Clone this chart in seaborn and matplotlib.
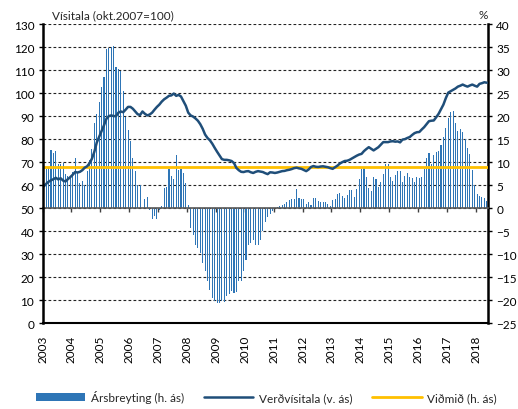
import numpy as np
import pandas as pd
import matplotlib
matplotlib.use("Agg")
import matplotlib.pyplot as plt
import seaborn as sns

# Monthly data from Jan 2003 to May 2018
years = list(range(2003, 2019))

# Ársbreyting (%), right axis
arsbreyting = [
    8.8, 8.5, 8.7, 12.6, 11.9, 12.4, 9.7, 9.7, 9.9, 7.5, 7.0, 6.5,            # 2003
    7.9, 10.8, 7.9, 5.4, 5.8, 5.0, 8.0, 10.4, 12.9, 18.6, 20.5, 23.0,         # 2004
    26.3, 28.4, 34.5, 34.7, 35.0, 35.2, 30.6, 30.3, 29.9, 25.5, 19.8, 16.9,   # 2005
    14.7, 11.0, 8.0, 5.0, 5.0, 0.0, 2.0, 2.5, -0.3, -2.3, -1.8, -2.3,         # 2006
    -0.4, 0.5, 4.3, 4.7, 8.5, 6.9, 6.4, 11.5, 8.3, 8.5, 7.6, 5.5,             # 2007
    0.7, -4.3, -5.8, -7.9, -8.7, -9.7, -11.9, -13.7, -15.9, -17.7, -19.5, -20.2,  # 2008
    -20.5, -20.6, -20.2, -20.4, -19.1, -18.7, -18.0, -18.4, -18.2, -15.9, -15.9, -13.7,  # 2009
    -11.2, -8.0, -7.5, -6.8, -7.9, -7.9, -6.8, -5.0, -3.0, -2.0, -1.2, -0.6,  # 2010
    0.1, 0.2, 0.4, 0.7, 0.9, 1.3, 1.8, 1.9, 2.0, 4.1, 2.2, 1.9,               # 2011
    2.1, 0.9, 1.4, 0.7, 2.3, 2.3, 1.6, 1.4, 1.4, 1.3, 0.9, 0.4,               # 2012
    1.8, 1.9, 3.0, 3.4, 2.7, 2.3, 2.9, 4.0, 4.0, 2.5, 4.1, 6.3,               # 2013
    8.6, 8.8, 6.8, 4.3, 3.7, 6.7, 6.3, 4.5, 5.6, 7.5, 9.6, 9.7,               # 2014
    6.8, 5.9, 7.3, 8.0, 8.1, 5.7, 7.0, 7.6, 6.7, 6.5, 5.7, 6.8,               # 2015
    6.5, 6.7, 8.6, 11.0, 11.9, 9.5, 11.5, 12.3, 12.5, 13.8, 15.5, 17.5,       # 2016
    19.5, 20.8, 21.2, 18.5, 16.8, 17.2, 16.5, 15.0, 13.0, 11.8, 8.4, 5.0,     # 2017
    3.0, 2.7, 2.4, 2.3, 1.5,                                                  # 2018
]

# Verðvísitala (okt.2007=100), left axis
verdvisitala = [
    59.5, 60.6, 61.5, 62.1, 62.6, 63.2, 62.5, 63.0, 62.0, 61.6, 62.6, 63.5,
    64.5, 65.7, 65.5, 65.8, 66.5, 67.6, 68.2, 69.5, 71.5, 74.5, 78.5, 81.0,
    83.5, 86.0, 88.8, 90.0, 90.3, 90.0, 90.0, 91.5, 92.0, 91.7, 92.8, 94.0,
    94.0, 93.2, 92.0, 90.8, 90.5, 92.0, 91.0, 90.3, 90.7, 91.5, 92.8, 94.0,
    95.0, 96.3, 97.3, 98.0, 98.8, 99.0, 99.8, 98.8, 99.2, 98.5, 96.5, 94.5,
    91.5, 90.3, 89.8, 89.0, 88.0, 86.5, 84.5, 82.0, 80.5, 79.5, 78.0, 76.2,
    74.5, 72.9, 71.3, 71.0, 71.0, 70.8, 70.5, 69.6, 67.5, 66.5, 65.8, 65.7,
    66.0, 66.1, 65.6, 65.3, 65.8, 66.1, 65.9, 65.7, 65.2, 64.8, 65.6, 65.5,
    65.3, 65.5, 65.8, 66.1, 66.2, 66.5, 66.7, 67.0, 67.4, 67.6, 67.3, 67.1,
    66.6, 66.1, 66.8, 67.9, 68.3, 68.0, 67.9, 68.1, 68.2, 68.0, 67.8, 67.4,
    67.1, 67.8, 68.5, 69.4, 70.0, 70.5, 70.6, 71.0, 71.6, 72.2, 72.8, 73.3,
    73.6, 74.8, 75.7, 76.5, 75.8, 75.1, 75.8, 76.5, 77.6, 78.7, 78.7, 78.7,
    79.0, 79.1, 78.9, 79.0, 78.6, 79.8, 80.0, 80.5, 80.9, 81.8, 82.6, 83.0,
    83.1, 84.2, 85.2, 86.5, 87.8, 88.0, 88.1, 89.5, 91.0, 93.0, 95.0, 97.8,
    100.2, 100.8, 101.4, 102.0, 102.8, 103.2, 103.7, 103.2, 102.8, 103.3, 103.7, 103.2,
    102.8, 104.0, 104.3, 104.7, 104.5,
]

vidmid = 9.0  # % (right axis)

BAR = "#2E75B6"
LINE = "#1F4E79"
YEL = "#FFC000"
FS = 8.5

df = pd.DataFrame({"t": np.arange(len(verdvisitala)),
                   "ars": arsbreyting,
                   "visitala": verdvisitala})

sns.set_style("white")
plt.rcParams["font.family"] = ["Lato", "DejaVu Sans"]

fig, ax = plt.subplots(figsize=(5.18, 4.10), dpi=100)
fig.subplots_adjust(left=0.0822, right=0.942, top=0.939, bottom=0.209)
ax2 = ax.twinx()

# bars on the right axis
sns.barplot(data=df, x="t", y="ars", native_scale=True, width=0.45,
            color=BAR, saturation=1, errorbar=None, linewidth=0, ax=ax2)
vline = ax2.axhline(vidmid, color=YEL, lw=2, zorder=3)

# index line on the left axis
sns.lineplot(data=df, x="t", y="visitala", color=LINE, lw=1.8, ax=ax)

ax.set_zorder(2)
ax2.set_zorder(1)
ax.patch.set_visible(False)
ax2.patch.set_visible(False)

ax.set_ylim(0, 130)
ax.set_yticks(range(0, 131, 10))
ax2.set_ylim(-25, 40)
ax2.set_yticks(range(-25, 41, 5))
ax.set_xlim(-0.5, len(df) - 0.5)
ax.set_xticks([12 * k - 0.5 for k in range(len(years))])
ax.set_xticklabels([str(y) for y in years], rotation=90)

ax2.yaxis.grid(True, ls=(0, (2.5, 2)), color="#222222", lw=0.8)
ax.grid(False)
ax2.xaxis.grid(False)

for a in (ax, ax2):
    a.set_xlabel("")
    a.set_ylabel("")
    for s in a.spines.values():
        s.set_visible(False)

ax.spines["left"].set_visible(True)
ax.spines["left"].set_color("black")
ax.spines["left"].set_linewidth(1.8)
ax.spines["bottom"].set_visible(True)
ax.spines["bottom"].set_color("black")
ax.spines["bottom"].set_linewidth(1.5)
ax2.spines["right"].set_visible(True)
ax2.spines["right"].set_color("black")
ax2.spines["right"].set_linewidth(1.8)

# category axis crossing at 0 % with year ticks
ax2.xaxis.set_visible(True)
ax2.spines["bottom"].set_visible(True)
ax2.spines["bottom"].set_position(("data", 0))
ax2.spines["bottom"].set_color("#595959")
ax2.spines["bottom"].set_linewidth(1.2)
ax2.tick_params(axis="x", bottom=True, labelbottom=False, direction="out",
                length=3, width=1, color="#404040")

ax.tick_params(axis="x", length=0, pad=8, labelsize=FS, colors="black")
ax.tick_params(axis="y", left=True, direction="out", length=3, width=1,
               labelsize=FS, colors="black", pad=3)
ax2.tick_params(axis="y", right=True, direction="out", length=3, width=1,
                labelsize=FS, colors="black", pad=3)

fig.text(0.10, 0.962, "Vísitala (okt.2007=100)", fontsize=FS, va="center", ha="left")
fig.text(0.932, 0.962, "%", fontsize=FS, va="center", ha="center")

handles = [ax2.containers[0].patches[0], ax.get_lines()[0], vline]
labels = ["Ársbreyting (h. ás)", "Verðvísitala (v. ás)", "Viðmið (h. ás)"]
fig.legend(handles, labels, loc="center", bbox_to_anchor=(0.514, 0.03), ncol=3,
           frameon=False, fontsize=FS, handlelength=4.2, handleheight=0.55,
           columnspacing=1.7, handletextpad=0.45)

fig.savefig("out.png", dpi=100, facecolor="white")
